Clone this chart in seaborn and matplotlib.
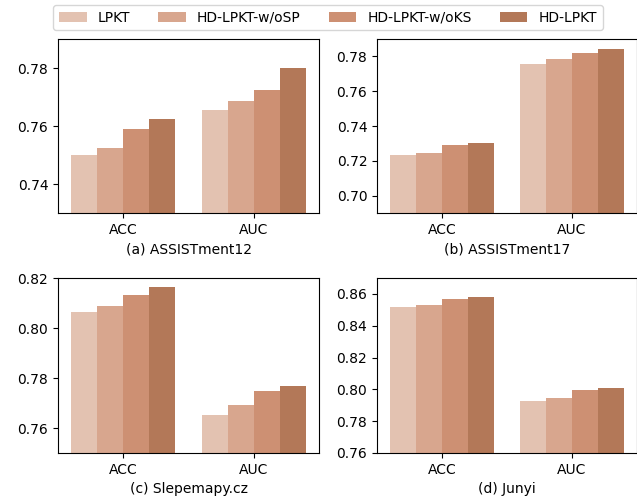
import pandas as pd
import matplotlib
matplotlib.use("Agg")
import matplotlib.pyplot as plt
import seaborn as sns

models = ["LPKT", "HD-LPKT-w/oSP", "HD-LPKT-w/oKS", "HD-LPKT"]
metrics = ["ACC", "AUC"]
colors = ["#e3c2b1", "#d8a68e", "#cd9073", "#b37858"]

# values per dataset: [ACC per model], [AUC per model]
assist12_acc = [0.7499, 0.7524, 0.7590, 0.7625]
assist12_auc = [0.7654, 0.7686, 0.7724, 0.7800]
assist17_acc = [0.7236, 0.7247, 0.7288, 0.7305]
assist17_auc = [0.7756, 0.7785, 0.7821, 0.7844]
slepemapy_acc = [0.8062, 0.8086, 0.8132, 0.8164]
slepemapy_auc = [0.7651, 0.7691, 0.7749, 0.7769]
junyi_acc = [0.8518, 0.8531, 0.8568, 0.8581]
junyi_auc = [0.7928, 0.7947, 0.7999, 0.8010]

panels = [
    ("(a) ASSISTment12", assist12_acc, assist12_auc, (0.73, 0.79), [0.74, 0.76, 0.78]),
    ("(b) ASSISTment17", assist17_acc, assist17_auc, (0.69, 0.79), [0.70, 0.72, 0.74, 0.76, 0.78]),
    ("(c) Slepemapy.cz", slepemapy_acc, slepemapy_auc, (0.75, 0.82), [0.76, 0.78, 0.80, 0.82]),
    ("(d) Junyi", junyi_acc, junyi_auc, (0.76, 0.87), [0.76, 0.78, 0.80, 0.82, 0.84, 0.86]),
]

# axes rectangles in figure fractions (left, bottom, width, height)
rects = [
    (0.0911, 0.574, 0.4097, 0.348),
    (0.5918, 0.574, 0.4075, 0.348),
    (0.0911, 0.094, 0.4097, 0.350),
    (0.5918, 0.094, 0.4075, 0.350),
]

fig = plt.figure(figsize=(6.37, 5), dpi=100)
handles, labels = None, None
for (title, acc, auc, ylim, yticks), rect in zip(panels, rects):
    ax = fig.add_axes(rect)
    df = pd.DataFrame({
        "Metric": ["ACC"] * 4 + ["AUC"] * 4,
        "Model": models + models,
        "Value": acc + auc,
    })
    sns.barplot(data=df, x="Metric", y="Value", hue="Model", hue_order=models,
                order=metrics, palette=colors, saturation=1, ax=ax)
    if handles is None:
        handles, labels = ax.get_legend_handles_labels()
    ax.get_legend().remove()
    ax.set_ylim(*ylim)
    ax.set_yticks(yticks)
    ax.set_yticklabels([f"{t:.2f}" for t in yticks])
    ax.set_xlim(-0.5, 1.5)
    ax.set_xlabel(title, fontsize=10)
    ax.set_ylabel("")
    ax.tick_params(labelsize=10)

fig.legend(handles, labels, loc="upper center", bbox_to_anchor=(0.515, 1.004),
           ncol=4, fontsize=10, frameon=True)

fig.savefig("out.png", dpi=100)
